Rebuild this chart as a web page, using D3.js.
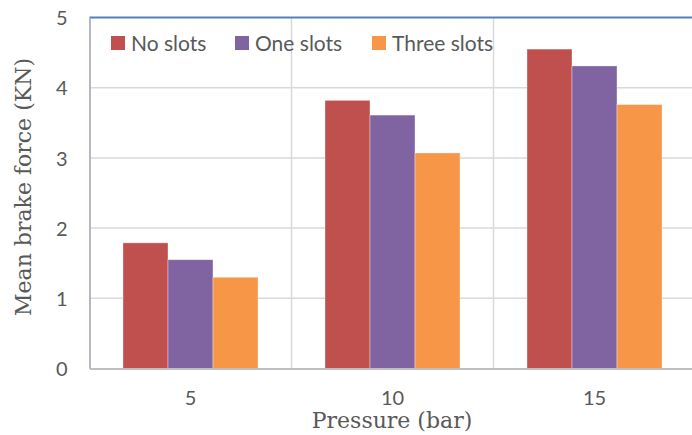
<!DOCTYPE html>
<html lang="en">
<head>
	<meta charset="UTF-8">
	<title>Mean brake force</title>
	<style>
		body{ margin:0; background:#fff; }
		.tick text{
			font-family: Lato, sans-serif;
			font-size: 20px;
			fill: #595959;
		}
		.legend text{
			font-family: Lato, sans-serif;
			font-size: 21px;
			fill: #595959;
		}
		.title{
			font-family: "DejaVu Serif", serif;
			font-size: 22px;
			fill: #595959;
		}
	</style>
</head>
<body>
	<script src="https://d3js.org/d3.v7.min.js"></script>
	<script>
		var width = 692;
		var height = 435;
		var categories = ['5', '10', '15'];   // pressure (bar)
		var seriesNames = ['No slots', 'One slots', 'Three slots'];
		var noSlots = [1.79, 3.82, 4.55];
		var oneSlots = [1.55, 3.61, 4.31];
		var threeSlots = [1.30, 3.07, 3.76];
		var yTicks = [0, 1, 2, 3, 4, 5];
		var colors = ['#C0504D', '#8064A2', '#F79646'];

		var seriesValues = [noSlots, oneSlots, threeSlots];
		var plotLeft = 89.5, plotTop = 17.5, plotRight = 695.5, plotBottom = 368.5;

		var svg = d3.select('body')
					.append('svg')
					.attr('width', width)
					.attr('height', height);

		var x0 = d3.scaleBand().domain(categories).range([plotLeft, plotRight]);
		var x1 = d3.scaleBand().domain(seriesNames).range([0, x0.bandwidth()]).paddingOuter(0.744);
		var y = d3.scaleLinear().domain([0, 5]).range([plotBottom, plotTop]);

		// gridlines
		svg.append('g').selectAll('line')
			.data(yTicks.slice(1, -1))
			.enter()
			.append('line')
			.attr('x1', plotLeft).attr('x2', plotRight)
			.attr('y1', function(d){ return y(d); })
			.attr('y2', function(d){ return y(d); })
			.attr('stroke', '#D9D9D9').attr('stroke-width', 1.5);
		svg.append('g').selectAll('line')
			.data(categories.slice(1))
			.enter()
			.append('line')
			.attr('x1', function(d){ return x0(d); })
			.attr('x2', function(d){ return x0(d); })
			.attr('y1', plotTop).attr('y2', plotBottom)
			.attr('stroke', '#D9D9D9').attr('stroke-width', 1.5);

		// bars
		var groups = svg.append('g').selectAll('g')
			.data(seriesNames)
			.enter()
			.append('g')
			.attr('fill', function(d, i){ return colors[i]; });
		groups.selectAll('rect')
			.data(function(d, i){
				return seriesValues[i].map(function(v, j){ return {s: d, c: categories[j], v: v}; });
			})
			.enter()
			.append('rect')
			.attr('x', function(d){ return x0(d.c) + x1(d.s); })
			.attr('y', function(d){ return y(d.v); })
			.attr('width', x1.bandwidth())
			.attr('height', function(d){ return y(0) - y(d.v); })
			.attr('stroke', 'rgba(255,255,255,0.45)')
			.attr('stroke-width', 0.8);

		// top border
		svg.append('line')
			.attr('x1', plotLeft).attr('x2', plotRight)
			.attr('y1', y(5)).attr('y2', y(5))
			.attr('stroke', '#4F81BD').attr('stroke-width', 2);

		// axes
		var yAxis = d3.axisLeft(y).tickValues(yTicks).tickFormat(d3.format('d')).tickSize(0).tickPadding(22);
		var gy = svg.append('g').attr('transform', 'translate(' + plotLeft + ',0)').call(yAxis);
		gy.select('.domain').attr('stroke', '#B4B8C6').attr('stroke-width', 2);
		gy.selectAll('.tick text').attr('dy', '0.36em');

		var xAxis = d3.axisBottom(x0).tickSize(0).tickPadding(22);
		var gx = svg.append('g').attr('transform', 'translate(0,' + plotBottom + ')').call(xAxis);
		gx.select('.domain').attr('stroke', '#BFBFBF').attr('stroke-width', 2);

		// axis titles
		svg.append('text')
			.attr('class', 'title')
			.attr('x', 392).attr('y', 428)
			.attr('text-anchor', 'middle')
			.text('Pressure (bar)');
		svg.append('text')
			.attr('class', 'title')
			.attr('transform', 'translate(31,187) rotate(-90)')
			.attr('text-anchor', 'middle')
			.text('Mean brake force (KN)');

		// legend
		var legendX = [111, 235, 372];
		var legend = svg.append('g').attr('class', 'legend')
			.selectAll('g')
			.data(seriesNames)
			.enter()
			.append('g')
			.attr('transform', function(d, i){ return 'translate(' + legendX[i] + ',36)'; });
		legend.append('rect')
			.attr('width', 14).attr('height', 14)
			.attr('fill', function(d, i){ return colors[i]; });
		legend.append('text')
			.attr('x', 20).attr('y', 14.5)
			.text(function(d){ return d; });
	</script>
</body>
</html>
